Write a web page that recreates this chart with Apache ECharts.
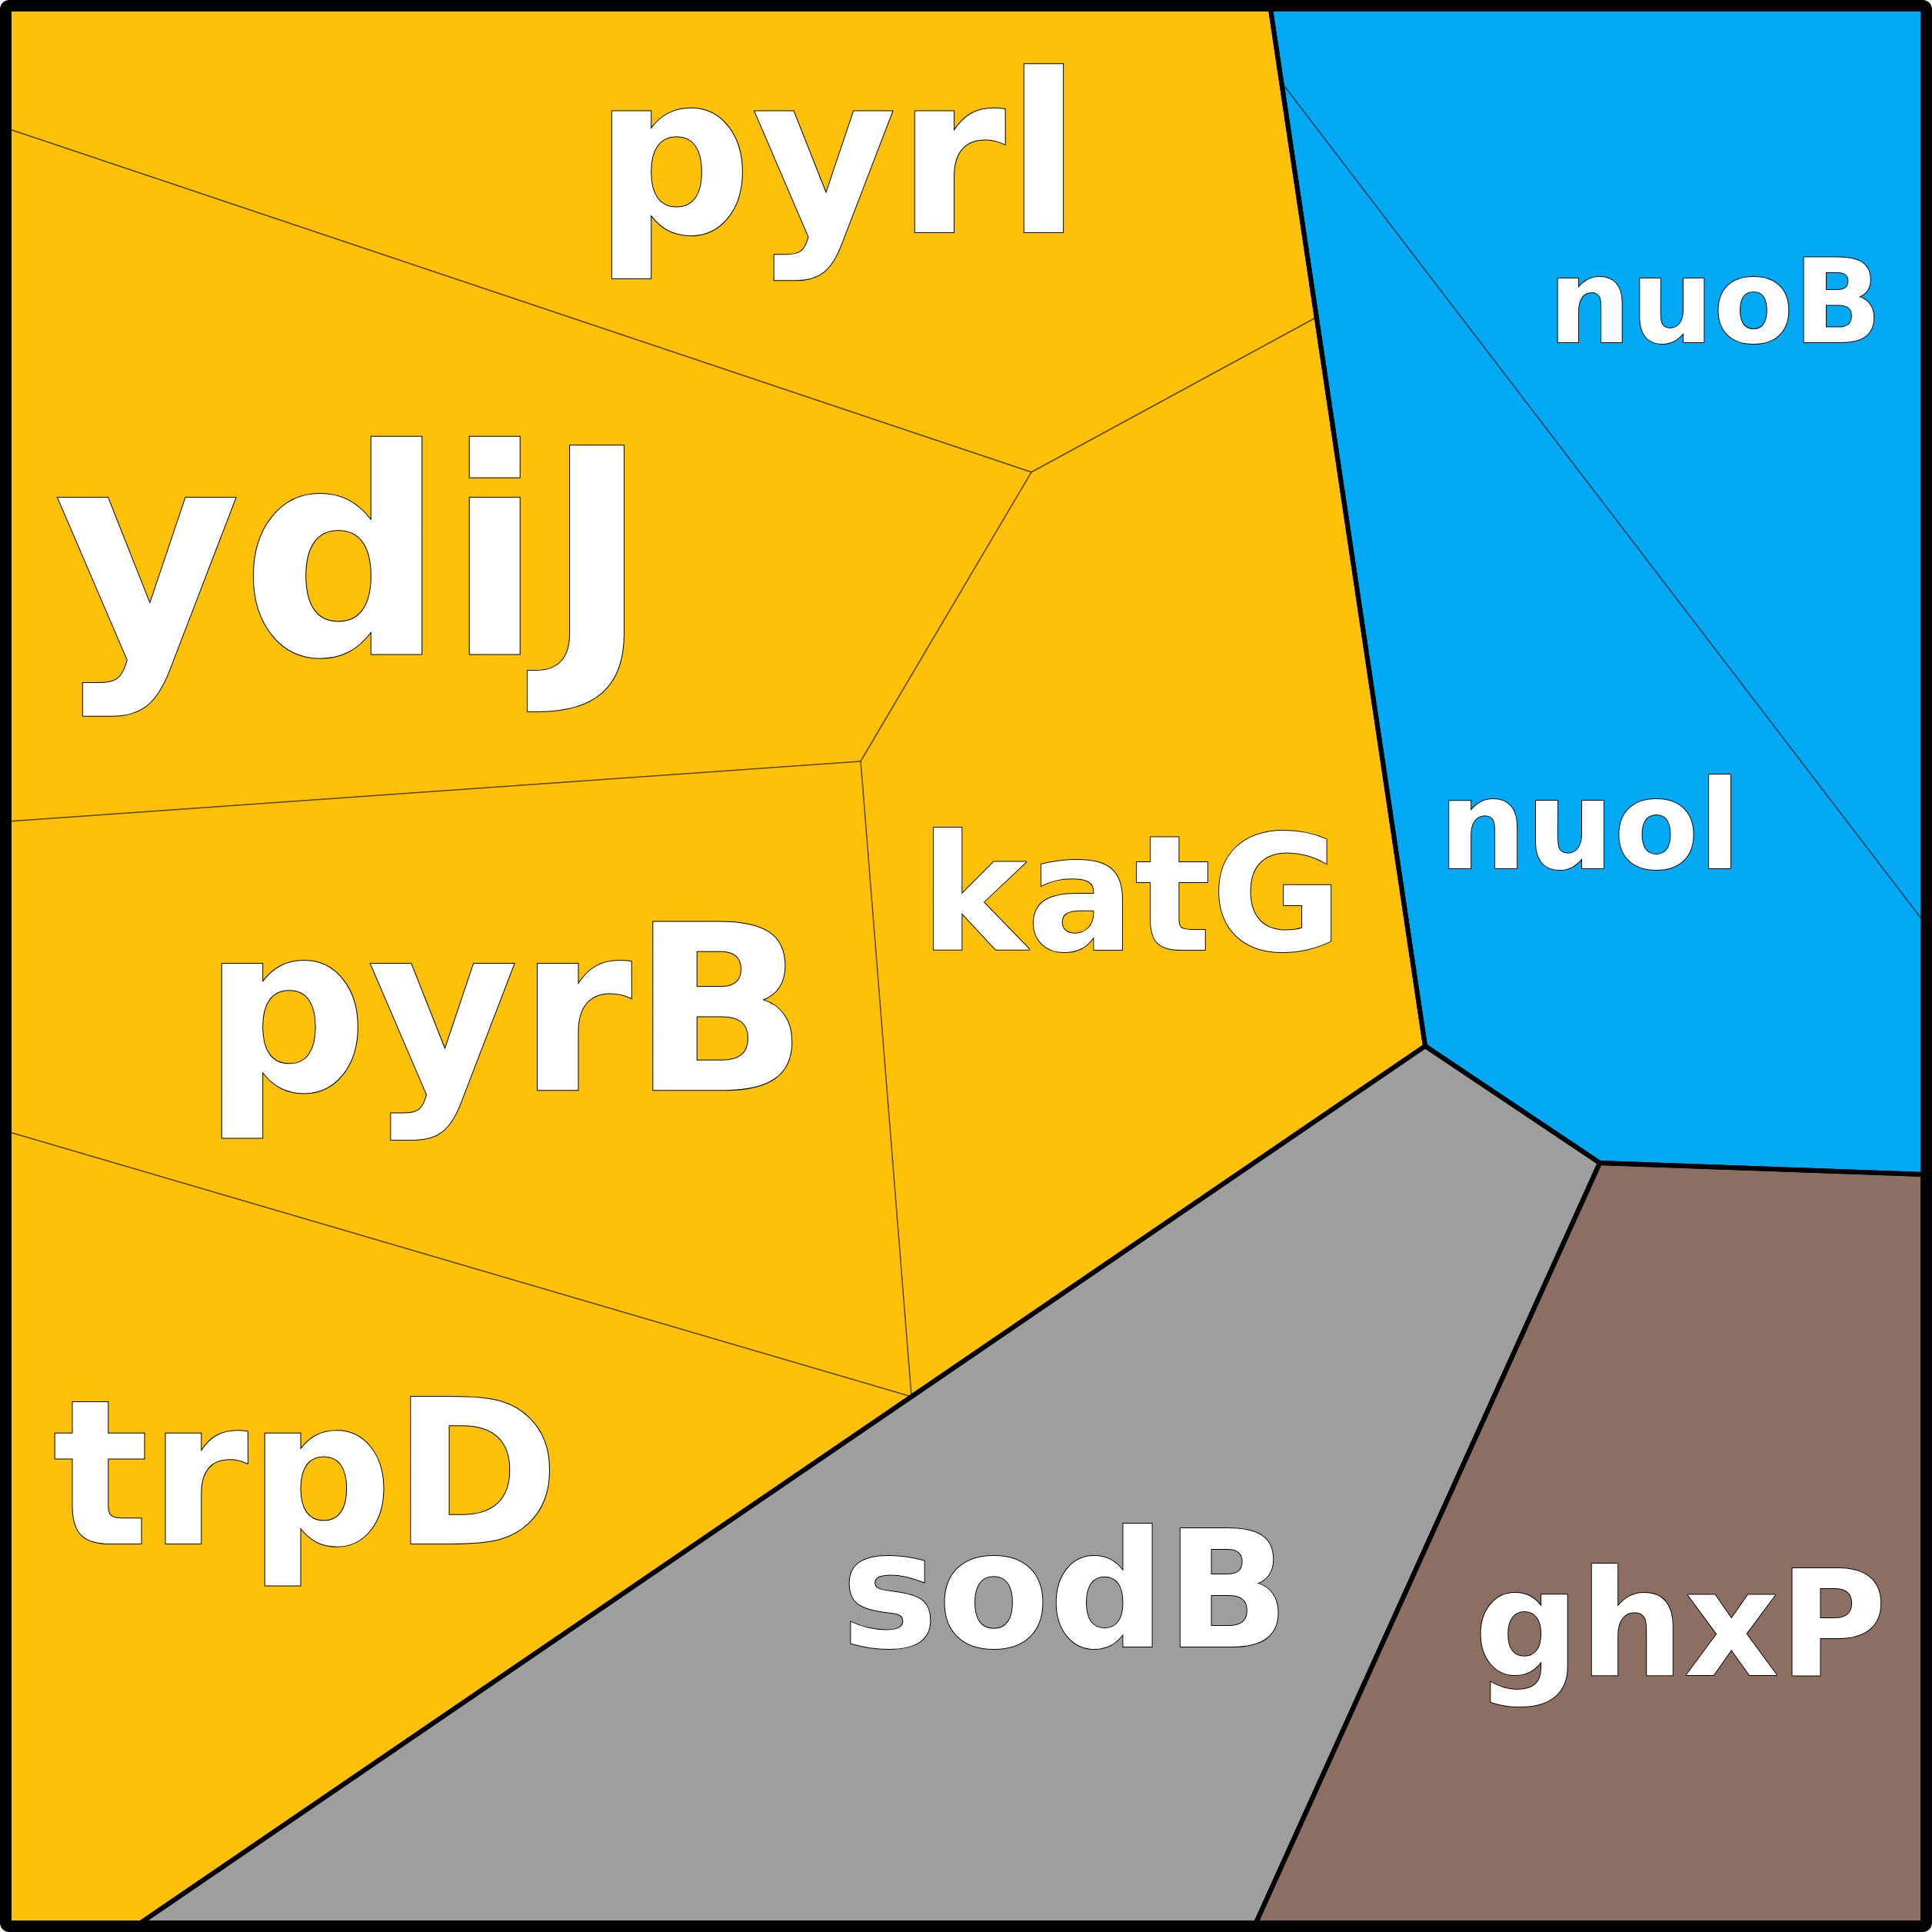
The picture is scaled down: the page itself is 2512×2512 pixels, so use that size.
<!DOCTYPE html>
<html>
<head>
<meta charset="utf-8">
<script src="https://cdn.jsdelivr.net/npm/echarts@6/dist/echarts.min.js"></script>
<style>
html,body{margin:0;padding:0;background:#fff;}
#chart{width:2512px;height:2512px;}
</style>
</head>
<body>
<div id="chart"></div>
<script>
// ---- Data (Voronoi treemap, coordinates in the treemap's own 0..2512 units) ----
const groupNames = ['groupA', 'groupB', 'groupC', 'groupD'];
const groupColors = ['#FFC107', '#03A9F4', '#9E9E9E', '#8D6E63'];

// shared cell vertices
const V = {
  TL: [12, 12], TR: [2500, 12], BR: [2500, 2500], BL: [12, 2500],
  A: [1652, 12], Ab: [1666, 107], Ay: [1711, 413],
  B: [1853, 1360], C: [2080, 1512], D: [2500, 1527],
  E: [1633, 2500], F: [183, 2500],
  Y1: [1341, 614], Y2: [1119, 990], Y3: [1185, 1816],
  L1: [12, 168], L2: [12, 1068], L3: [12, 1472], R1: [2500, 1197]
};

const cellNames = ['pyrl', 'ydiJ', 'katG', 'pyrB', 'trpD', 'nuoB', 'nuol', 'sodB', 'ghxP'];
const cellGroups = [0, 0, 0, 0, 0, 1, 1, 2, 3];
const cellVertices = [
  ['TL', 'A', 'Ay', 'Y1', 'L1'],
  ['L1', 'Y1', 'Y2', 'L2'],
  ['Y1', 'Ay', 'B', 'Y3', 'Y2'],
  ['L2', 'Y2', 'Y3', 'L3'],
  ['L3', 'Y3', 'F', 'BL'],
  ['A', 'TR', 'R1', 'Ab'],
  ['Ab', 'R1', 'D', 'C', 'B'],
  ['B', 'C', 'E', 'F'],
  ['C', 'D', 'BR', 'E']
];
const groupVertices = [
  ['TL', 'A', 'B', 'F', 'BL'],
  ['A', 'TR', 'D', 'C', 'B'],
  ['B', 'C', 'E', 'F'],
  ['C', 'D', 'BR', 'E']
];
// label anchor (x centre, text baseline) per cell
const labelX = [1089, 458, 1471, 657, 398, 2230, 2067, 1385, 2185];
const labelBaseline = [301, 849, 1234, 1416, 2006, 444, 1128, 2140, 2177];

// ---- Style ----
const labelFontSize = [288, 372, 208, 300, 262, 151, 160, 211, 191];
const MID = 0.256;

const chart = echarts.init(document.getElementById('chart'), null, {renderer: 'canvas'});

const option = {
  backgroundColor: '#ffffff',
  animation: false,
  grid: {left: 0, right: 0, top: 0, bottom: 0},
  xAxis: {type: 'value', min: 0, max: 2512, show: false},
  yAxis: {type: 'value', min: 0, max: 2512, inverse: true, show: false},
  series: [
    {
      type: 'custom',
      coordinateSystem: 'cartesian2d',
      silent: true,
      clip: false,
      z: 1,
      data: cellNames.map((n, i) => [labelX[i], labelBaseline[i]]),
      renderItem: function (params, api) {
        const i = params.dataIndex;
        const pts = cellVertices[i].map(k => api.coord(V[k]));
        return {
          type: 'polygon',
          shape: {points: pts},
          style: {
            fill: groupColors[cellGroups[i]],
            stroke: 'rgba(0,0,0,0.5)',
            lineWidth: 1.5
          }
        };
      }
    },
    {
      type: 'custom',
      coordinateSystem: 'cartesian2d',
      silent: true,
      clip: false,
      z: 2,
      data: groupNames.map((n, i) => [i, i]),
      renderItem: function (params, api) {
        const i = params.dataIndex;
        const pts = groupVertices[i].map(k => api.coord(V[k]));
        return {
          type: 'polygon',
          shape: {points: pts},
          style: {fill: null, stroke: '#000', lineWidth: 6, lineJoin: 'miter'}
        };
      }
    },
    {
      type: 'custom',
      coordinateSystem: 'cartesian2d',
      silent: true,
      clip: false,
      z: 3,
      data: cellNames.map((n, i) => [labelX[i], labelBaseline[i]]),
      renderItem: function (params, api) {
        const i = params.dataIndex;
        const fs = labelFontSize[i];
        const p = api.coord([api.value(0), api.value(1)]);
        return {
          type: 'text',
          x: p[0],
          y: p[1] - MID * fs,
          style: {
            text: cellNames[i],
            fontFamily: 'DejaVu Sans',
            fontWeight: 'bold',
            fontSize: fs,
            fill: '#ffffff',
            stroke: '#000000',
            lineWidth: 2,
            align: 'center',
            verticalAlign: 'middle'
          }
        };
      }
    }
  ],
  graphic: [
    {
      type: 'rect',
      z: 100,
      silent: true,
      shape: {x: 6, y: 6, width: 2500, height: 2500, r: 6},
      style: {fill: null, stroke: '#000', lineWidth: 12}
    }
  ]
};
chart.setOption(option);
</script>
</body>
</html>
